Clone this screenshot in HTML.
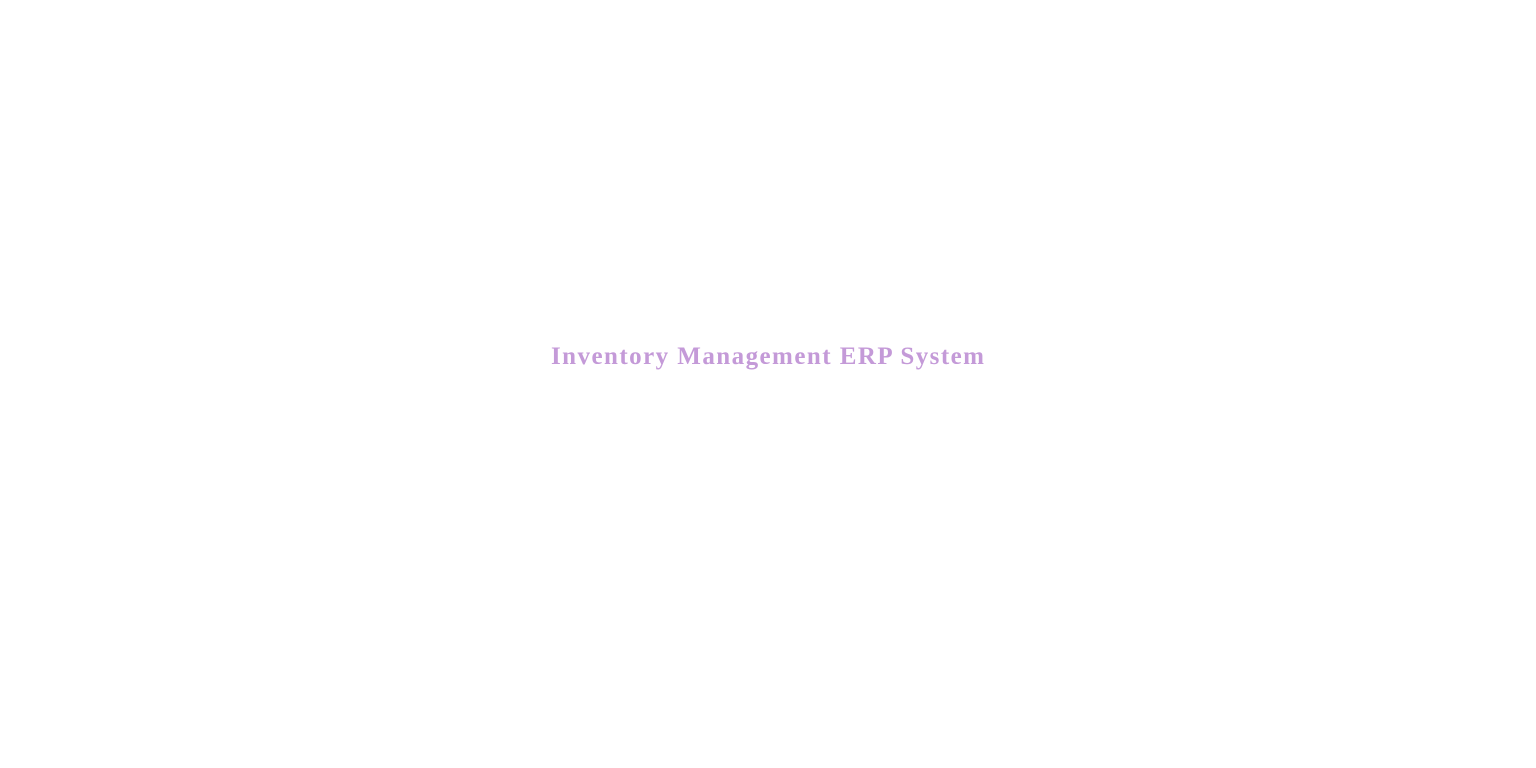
<!DOCTYPE html>
<html>
<head>
<meta charset="utf-8">
<style>
html,body{margin:0;padding:0;background:#fff;width:1536px;height:768px;overflow:hidden}
svg{display:block}
</style>
</head>
<body>
<svg width="1536" height="768">
  <text x="551" y="364"
    font-family="'Liberation Serif', serif" font-weight="bold" font-size="25"
    fill="#c49ad8" textLength="433" lengthAdjust="spacing">Inventory Management ERP System</text>
</svg>
</body>
</html>
